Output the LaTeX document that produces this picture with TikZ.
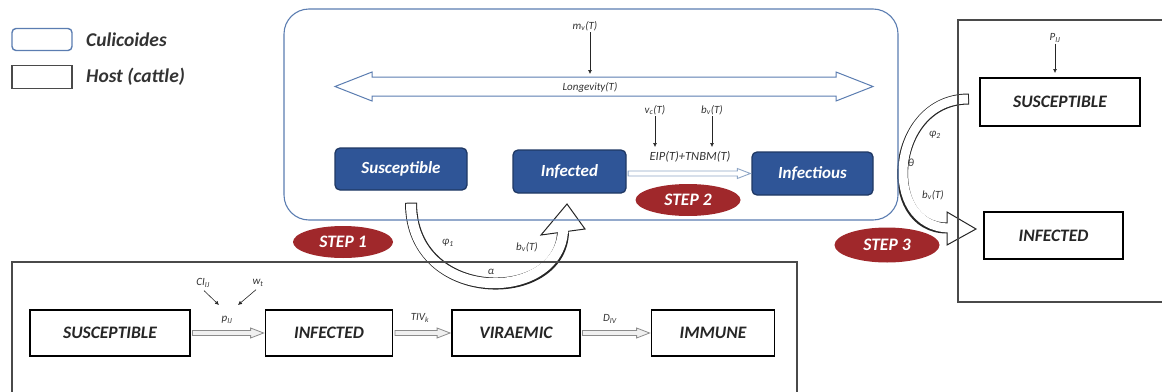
\documentclass[tikz,border=0pt]{standalone}
\usepackage{fontspec}
\setmainfont{Carlito}
\usetikzlibrary{arrows.meta,calc,shapes.geometric}
\definecolor{cblue}{HTML}{2F5597}
\definecolor{cblueD}{HTML}{1F3864}
\definecolor{cline}{HTML}{5B7DB1}
\definecolor{stepred}{HTML}{A0282B}
\definecolor{hostline}{HTML}{4A4A4A}
\definecolor{arrgray}{HTML}{8C8C8C}
\definecolor{arrblue}{HTML}{8FA6C6}
\tikzset{
  vbox/.style={draw=cblueD, fill=cblue, rounded corners=5pt, line width=1.3pt,
    text=white, font=\fontsize{17}{19}\selectfont\bfseries\itshape, inner sep=0pt},
  hbox/.style={draw=black, line width=1.8pt, fill=white, text=black!85,
    font=\fontsize{17.5}{19}\selectfont\bfseries\itshape, inner sep=0pt},
  stepnode/.style={ellipse, fill=stepred, text=white, inner sep=0pt,
    font=\fontsize{17.5}{19}\selectfont\bfseries\itshape},
  lab/.style={font=\fontsize{11}{12}\selectfont\itshape, text=black!80, inner sep=1pt},
  dotarr/.style={-{Latex[length=4pt,width=4pt]}, line width=0.6pt, black!85},
  legtext/.style={font=\fontsize{19.5}{21}\selectfont\bfseries\itshape, text=black!80, anchor=west, inner sep=0pt},
  thingray/.style={draw=arrgray, fill=gray!12, line width=0.8pt},
  thinblue/.style={draw=arrblue, fill=white, line width=0.9pt},
}
\newcommand{\flatarrow}[3]{%
  \coordinate (fa) at (#2.east |- #3.west);
  \coordinate (fb) at (#3.west);
  \draw[#1] ($(fa)+(1.5,-2.5)$) -- ($(fb)+(-14,-2.5)$) -- ($(fb)+(-14,-5)$) --
    ($(fb)+(-1,0)$) -- ($(fb)+(-14,5)$) -- ($(fb)+(-14,2.5)$) -- ($(fa)+(1.5,2.5)$) -- cycle;
}
\begin{document}
\begin{tikzpicture}[x=1pt,y=-1pt]
\useasboundingbox (0,0) rectangle (1162,391);

% ---------- nodes (positions) ----------
\path
  (401,169) node[vbox, minimum width=132pt, minimum height=42pt] (cs) {Susceptible}
  (569.5,171.5) node[vbox, minimum width=113pt, minimum height=43pt] (ci) {Infected}
  (812.5,173.5) node[vbox, minimum width=121pt, minimum height=43pt] (cf) {Infectious};

% ---------- big hollow curved arrows (drawn first) ----------
\coordinate (t1) at ($(cs.south)+(10,12)$);
\coordinate (b1) at (563,232);
\coordinate (p1) at (567,204);
\draw[line width=12pt, black!85] (t1) .. controls (411,305) and (561,305) .. (b1);
\draw[fill=white, draw=black!85, line width=1pt] (541,235) -- (p1) -- (585,229) -- cycle;
\draw[line width=10pt, white, shorten <=1pt, shorten >=-3pt] (t1) .. controls (411,305) and (561,305) .. (b1);

\coordinate (t3) at (969,99);
\coordinate (b3) at (947,228);
\coordinate (p3) at (976,229);
\draw[line width=11pt, black!85] (t3) .. controls (890,99) and (880,228) .. (b3);
\draw[fill=white, draw=black!85, line width=1pt] (947,212) -- (p3) -- (947,245) -- cycle;
\draw[line width=9pt, white, shorten <=1pt, shorten >=-3pt] (t3) .. controls (890,99) and (880,228) .. (b3);

% ---------- frames ----------
\draw[cline, line width=1.1pt, rounded corners=25pt] (284,9) rectangle (898,220);
\draw[hostline, line width=1.4pt] (12,400) -- (12,262) -- (797,262) -- (797,400);
\draw[hostline, line width=1.4pt] (1175,20) -- (958,20) -- (958,302) -- (1175,302);

% ---------- legend ----------
\node[draw=cline, line width=1.4pt, rounded corners=4pt, minimum width=60pt, minimum height=22pt, inner sep=0pt] (legc) at (42,39.5) {};
\node[legtext] (legct) at (86,40) {Culicoides};
\node[draw=hostline, line width=1.6pt, minimum width=60pt, minimum height=23pt, inner sep=0pt] (legh) at (42,77) {};
\node[legtext] (leght) at (86,77) {Host (cattle)};

% ---------- longevity double arrow ----------
\draw[cline, fill=white, line width=1pt]
  (335,86.5) -- (372,72) -- (372,77) -- (836,77) -- (836,72) -- (873,86.5)
  -- (836,101) -- (836,96) -- (372,96) -- (372,101) -- cycle;
\node[lab] (longlab) at (590,87) {Longevity(T)};
\coordinate (longtop) at (590,74);
\node[lab] (mv) at (585,26) {m\textsubscript{v}(T)};
\draw[dotarr] (mv.south -| longtop) -- (longtop);

% ---------- host nodes ----------
\node[hbox, minimum width=160pt, minimum height=46pt] (hs) at (110,333) {SUSCEPTIBLE};
\node[hbox, minimum width=127pt, minimum height=46pt] (hi) at (329,333) {INFECTED};
\node[hbox, minimum width=128pt, minimum height=46pt] (hv) at (516,333) {VIRAEMIC};
\node[hbox, minimum width=123pt, minimum height=46pt] (hm) at (713,333) {IMMUNE};
\node[hbox, minimum width=160pt, minimum height=48pt] (rs) at (1060,102) {SUSCEPTIBLE};
\node[hbox, minimum width=139pt, minimum height=47pt] (ri) at (1053.5,235.5) {INFECTED};

% ---------- thin arrows ----------
\flatarrow{thingray}{hs}{hi}
\flatarrow{thingray}{hi}{hv}
\flatarrow{thingray}{hv}{hm}
\flatarrow{thinblue}{ci}{cf}

% ---------- labels ----------
\node[lab, font=\fontsize{12.5}{13}\selectfont\itshape] (eip) at (690,157) {EIP(T)+TNBM(T)};
\node[lab] (vc) at (655,110) {v\textsubscript{c}(T)};
\node[lab] (bvt) at (712,110) {b\textsubscript{v}(T)};
\coordinate (vce) at (655,147);
\coordinate (bve) at (712,147);
\draw[dotarr] (vc.south -| vce) -- (vce);
\draw[dotarr] (bvt.south -| bve) -- (bve);

\node[lab] (phi1) at (448,243) {φ\textsubscript{1}};
\node[lab] (bv1) at (527,247) {b\textsubscript{v}(T)};
\node[lab] (alpha) at (491,272) {α};

\node[lab] (ci2) at (203,283) {CI\textsubscript{IJ}};
\node[lab] (wt) at (258,283) {w\textsubscript{t}};
\node[lab] (pij) at (227,320) {p\textsubscript{IJ}};
\coordinate (cie) at (219,305);
\coordinate (wte) at (238,305);
\draw[dotarr] (ci2.south) ++(1,2) -- (cie);
\draw[dotarr] (wt.south) ++(-2,2) -- (wte);
\node[lab] (tiv) at (420,318) {TIV\textsubscript{k}};
\node[lab] (div) at (610,319) {D\textsubscript{IV}};

\node[lab] (pij2) at (1055,38) {P\textsubscript{IJ}};
\coordinate (pije) at (1055,73);
\draw[dotarr] (pij2.south) -- (pije);
\node[lab] (phi2) at (935,135) {φ\textsubscript{2}};
\node[lab] (theta) at (911,163) {θ};
\node[lab] (bv3) at (933,195) {b\textsubscript{v}(T)};

% ---------- step ellipses ----------
\node[stepnode, minimum width=100pt, minimum height=32pt] (s1) at (343,242) {STEP 1};
\node[stepnode, minimum width=105pt, minimum height=32pt] (s2) at (688,200) {STEP 2};
\node[stepnode, minimum width=105pt, minimum height=35pt] (s3) at (887,245) {STEP 3};
\end{tikzpicture}
\end{document}
